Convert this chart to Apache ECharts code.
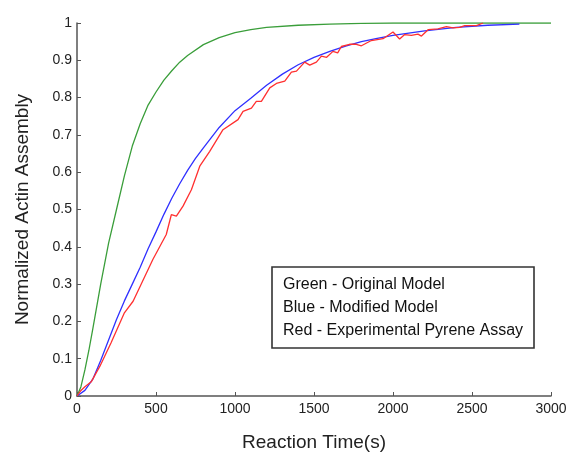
<!DOCTYPE html>
<html>
<head>
<meta charset="utf-8">
<script src="https://cdn.jsdelivr.net/npm/echarts@6/dist/echarts.min.js"></script>
<style>
  html, body { margin: 0; padding: 0; background: #fff; }
  #chart { width: 573px; height: 454px; }
</style>
</head>
<body>
<div id="chart"></div>
<script>
// Green - Original Model
var greenT = [0, 25, 50, 75, 100, 150, 200, 250, 300, 350, 400, 450, 500, 550, 600, 650, 700, 800, 900, 1000, 1100, 1200, 1400, 1600, 1800, 2000, 3000];
var greenV = [0, 0.025, 0.07, 0.122, 0.18, 0.30, 0.41, 0.50, 0.59, 0.67, 0.73, 0.78, 0.815, 0.847, 0.872, 0.895, 0.913, 0.942, 0.961, 0.974, 0.982, 0.988, 0.994, 0.997, 0.999, 1, 1];

// Blue - Modified Model
var blueT = [0, 50, 100, 150, 200, 250, 300, 350, 400, 450, 500, 550, 600, 650, 700, 750, 800, 900, 1000, 1100, 1200, 1300, 1400, 1500, 1600, 1700, 1800, 1900, 2000, 2200, 2400, 2600, 2800];
var blueV = [0, 0.015, 0.045, 0.095, 0.15, 0.205, 0.255, 0.30, 0.345, 0.395, 0.44, 0.487, 0.53, 0.569, 0.605, 0.637, 0.665, 0.72, 0.765, 0.798, 0.833, 0.863, 0.888, 0.908, 0.924, 0.938, 0.95, 0.959, 0.967, 0.979, 0.988, 0.994, 0.997];

// Red - Experimental Pyrene Assay
var redT = [0, 25, 50, 90, 145, 215, 300, 355, 480, 565, 597, 629, 671, 724, 777, 840, 924, 1019, 1051, 1104, 1135, 1167, 1220, 1262, 1315, 1357, 1389, 1441, 1473, 1515, 1547, 1580, 1620, 1650, 1673, 1725, 1768, 1800, 1863, 1937, 2000, 2042, 2074, 2116, 2158, 2180, 2222, 2285, 2338, 2380, 2422, 2454, 2528, 2570];
var redV = [0, 0.015, 0.025, 0.038, 0.08, 0.142, 0.223, 0.254, 0.366, 0.433, 0.486, 0.482, 0.509, 0.553, 0.616, 0.656, 0.714, 0.741, 0.763, 0.772, 0.79, 0.79, 0.826, 0.838, 0.844, 0.868, 0.871, 0.895, 0.887, 0.895, 0.911, 0.908, 0.924, 0.92, 0.937, 0.943, 0.943, 0.939, 0.953, 0.958, 0.976, 0.957, 0.969, 0.967, 0.97, 0.965, 0.982, 0.984, 0.99, 0.987, 0.988, 0.993, 0.993, 1.0];

var legendLines = ['Green - Original Model', 'Blue - Modified Model', 'Red - Experimental Pyrene Assay'];

function pairs(t, v) {
  return t.map(function (x, i) { return [x, v[i]]; });
}

var font = 'Liberation Sans, Arial, sans-serif';
var axisColor = '#555';

var chart = echarts.init(document.getElementById('chart'));
chart.setOption({
  animation: false,
  backgroundColor: '#fff',
  grid: { left: 77, right: 22, top: 23, bottom: 58, containLabel: false, outerBoundsMode: 'none' },
  xAxis: {
    type: 'value', min: 0, max: 3000, interval: 500,
    name: 'Reaction Time(s)', nameLocation: 'middle', nameGap: 37,
    nameTextStyle: { fontFamily: font, fontSize: 19, color: '#222' },
    axisLine: { lineStyle: { color: axisColor, width: 1.5 } },
    axisTick: { inside: true, length: 4, lineStyle: { color: axisColor } },
    axisLabel: { fontFamily: font, fontSize: 14, color: '#222', margin: 6,
      formatter: function (v) { return String(v); } },
    splitLine: { show: false }
  },
  yAxis: {
    type: 'value', min: 0, max: 1, interval: 0.1,
    name: 'Normalized Actin Assembly', nameLocation: 'middle', nameGap: 45, nameRotate: 90,
    nameTextStyle: { fontFamily: font, fontSize: 19, color: '#222' },
    axisLine: { show: true, lineStyle: { color: axisColor, width: 1.5 } },
    axisTick: { show: true, inside: true, length: 4, lineStyle: { color: axisColor } },
    axisLabel: { fontFamily: font, fontSize: 14, color: '#222', margin: 5 },
    splitLine: { show: false }
  },
  series: [
    { name: 'Green', type: 'line', data: pairs(greenT, greenV), showSymbol: false,
      lineStyle: { color: '#3a9e3a', width: 1.3 } },
    { name: 'Blue', type: 'line', data: pairs(blueT, blueV), showSymbol: false,
      lineStyle: { color: '#3030ff', width: 1.3 } },
    { name: 'Red', type: 'line', data: pairs(redT, redV), showSymbol: false,
      lineStyle: { color: '#ff3030', width: 1.3 } }
  ],
  graphic: [
    { type: 'rect', shape: { x: 272, y: 267, width: 262, height: 81 },
      style: { fill: '#fff', stroke: '#333', lineWidth: 1.6 } },
    { type: 'text', x: 283, y: 285, style: { text: legendLines[0], font: '16px ' + font, fill: '#111', verticalAlign: 'middle' } },
    { type: 'text', x: 283, y: 308, style: { text: legendLines[1], font: '16px ' + font, fill: '#111', verticalAlign: 'middle' } },
    { type: 'text', x: 283, y: 331, style: { text: legendLines[2], font: '16px ' + font, fill: '#111', verticalAlign: 'middle' } }
  ]
});
</script>
</body>
</html>
